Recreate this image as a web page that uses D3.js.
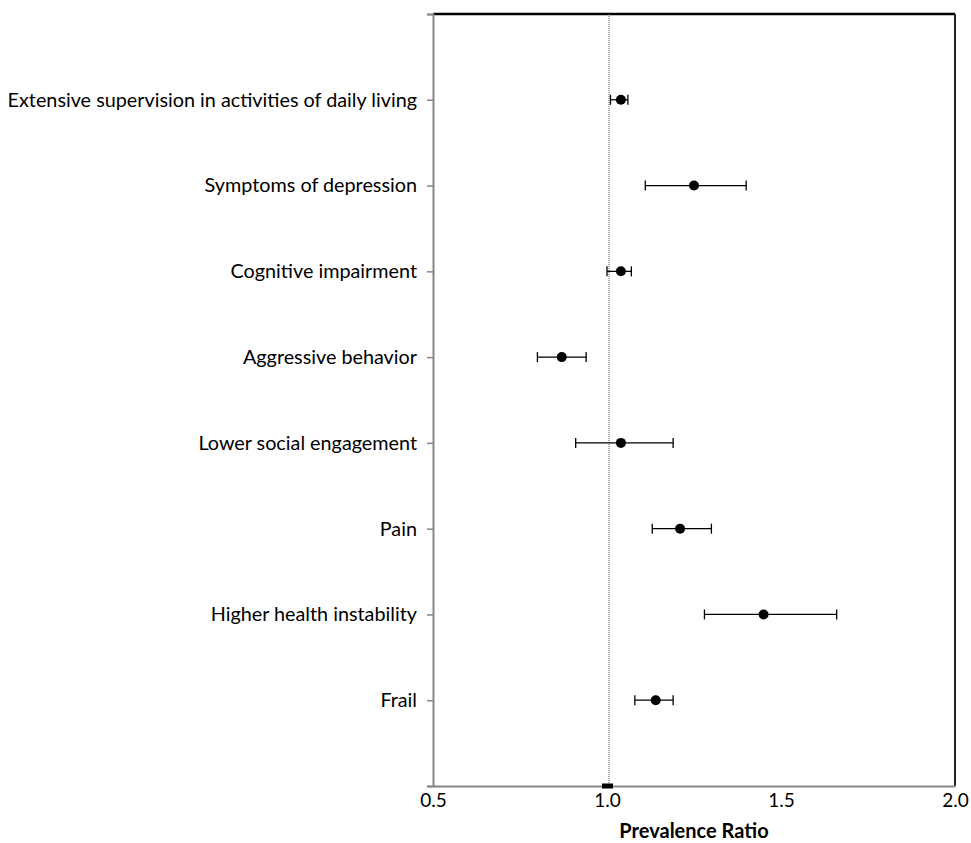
<!DOCTYPE html>
<html>
<head>
<meta charset="utf-8">
<script src="https://cdn.jsdelivr.net/npm/d3@7"></script>
<style>
  body { margin: 0; background: #fff; }
  .chart-text { font-family: Lato, "Open Sans", sans-serif; fill: #000; }
</style>
</head>
<body>
<div id="chart-area"></div>
<script>
const categories = [
  "Extensive supervision in activities of daily living",
  "Symptoms of depression",
  "Cognitive impairment",
  "Aggressive behavior",
  "Lower social engagement",
  "Pain",
  "Higher health instability",
  "Frail"
];
const estimates = [1.04, 1.25, 1.04, 0.87, 1.04, 1.21, 1.45, 1.14];
const lowerCI   = [1.01, 1.11, 1.00, 0.80, 0.91, 1.13, 1.28, 1.08];
const upperCI   = [1.06, 1.40, 1.07, 0.94, 1.19, 1.30, 1.66, 1.19];
const xTicks    = [0.5, 1.0, 1.5, 2.0];
const referenceValue = 1.0;

const totalWidth = 971, totalHeight = 843;
const marginLeft = 433, marginRight = 16, marginTop = 14, marginBottom = 57;
const width  = totalWidth  - marginLeft - marginRight;
const height = totalHeight - marginTop  - marginBottom;

const svg = d3.select("#chart-area")
  .append("svg")
    .attr("width", totalWidth)
    .attr("height", totalHeight);

const g = svg.append("g")
  .attr("transform", "translate(" + marginLeft + "," + marginTop + ")");

const xScale = d3.scaleLinear()
  .domain([0.5, 2.0])
  .range([0, width]);

// one slot above and below the categories
const yScale = d3.scaleLinear()
  .domain([0, categories.length + 1])
  .range([0, height]);

// top and right frame
g.append("line")
  .attr("x1", 0).attr("x2", width)
  .attr("y1", 0).attr("y2", 0)
  .attr("stroke", "#000").attr("stroke-width", 2.5);
g.append("line")
  .attr("x1", width).attr("x2", width)
  .attr("y1", 0).attr("y2", height)
  .attr("stroke", "#222").attr("stroke-width", 2);

// x axis
const xAxisCall = d3.axisBottom(xScale)
  .tickValues(xTicks)
  .tickSize(0)
  .tickPadding(8)
  .tickFormat(d3.format(".1f"));
const xAxis = g.append("g")
  .attr("class", "x axis")
  .attr("transform", "translate(0," + height + ")")
  .call(xAxisCall);
xAxis.select(".domain").attr("stroke", "#868686").attr("stroke-width", 2);
xAxis.selectAll("text")
  .attr("class", "chart-text")
  .attr("font-size", "19px");

// y axis
const yAxisCall = d3.axisLeft(yScale)
  .tickValues(d3.range(0, categories.length + 2))
  .tickSize(6)
  .tickPadding(10)
  .tickFormat(i => categories[i - 1] || "");
const yAxis = g.append("g")
  .attr("class", "y axis")
  .call(yAxisCall);
yAxis.select(".domain").attr("stroke", "#868686").attr("stroke-width", 2);
yAxis.selectAll(".tick line").attr("stroke", "#868686").attr("stroke-width", 1.5);
yAxis.selectAll("text")
  .attr("class", "chart-text")
  .attr("font-size", "19.8px");

// reference line at 1
g.append("line")
  .attr("x1", xScale(referenceValue) + 2).attr("x2", xScale(referenceValue) + 2)
  .attr("y1", 0).attr("y2", height)
  .attr("stroke", "#555")
  .attr("stroke-width", 1)
  .attr("stroke-dasharray", "1,1");

g.append("rect")
  .attr("x", xScale(referenceValue) - 5)
  .attr("y", height - 2.5)
  .attr("width", 11)
  .attr("height", 5)
  .attr("fill", "#000");

// error bars
const rows = categories.map((c, i) => ({
  name: c, est: estimates[i], lo: lowerCI[i], hi: upperCI[i], pos: i + 1
}));

const bars = g.selectAll(".row")
  .data(rows)
  .enter()
  .append("g")
    .attr("class", "row")
    .attr("transform", d => "translate(0," + yScale(d.pos) + ")");

bars.append("line")
  .attr("x1", d => xScale(d.lo))
  .attr("x2", d => xScale(d.hi))
  .attr("stroke", "#000").attr("stroke-width", 1.3);

bars.append("line")
  .attr("x1", d => xScale(d.lo)).attr("x2", d => xScale(d.lo))
  .attr("y1", -5).attr("y2", 5)
  .attr("stroke", "#000").attr("stroke-width", 1.3);

bars.append("line")
  .attr("x1", d => xScale(d.hi)).attr("x2", d => xScale(d.hi))
  .attr("y1", -5).attr("y2", 5)
  .attr("stroke", "#000").attr("stroke-width", 1.3);

bars.append("circle")
  .attr("cx", d => xScale(d.est))
  .attr("r", 5)
  .attr("fill", "#000");

// x label
g.append("text")
  .attr("class", "chart-text")
  .attr("x", width / 2)
  .attr("y", height + 52)
  .attr("font-size", "20px")
  .attr("font-weight", "bold")
  .attr("text-anchor", "middle")
  .text("Prevalence Ratio");
</script>
</body>
</html>
